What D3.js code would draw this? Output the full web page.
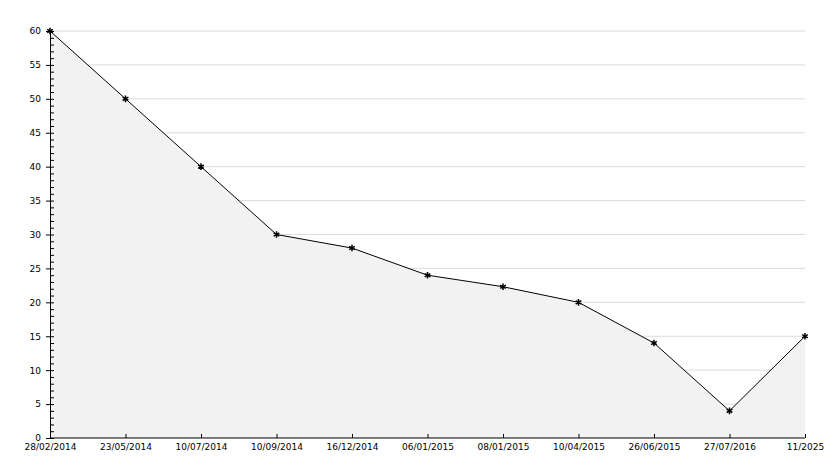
<!DOCTYPE html>
<html><head><meta charset="utf-8">
<script src="https://cdn.jsdelivr.net/npm/d3@7"></script>
<style>body{margin:0;background:#fff}text{font-family:"DejaVu Sans",sans-serif;font-size:9px;fill:#000}</style>
</head><body><div id="chart"></div>
<script>
const dates = ['28/02/2014','23/05/2014','10/07/2014','10/09/2014','16/12/2014','06/01/2015','08/01/2015','10/04/2015','26/06/2015','27/07/2016','11/2025']
const values = [60, 50, 40, 30, 28, 24, 22.3, 20, 14, 4, 15]
const yTicks = [0,5,10,15,20,25,30,35,40,45,50,55,60]

const w = 834, h = 468
const svg = d3.select('#chart').append('svg').attr('width', w).attr('height', h)

const x = d3.scalePoint().domain(dates).range([50, 805])
const y = d3.scaleLinear().domain([0, 60]).range([438, 31])

// grid
svg.selectAll('.grid').data(yTicks.slice(1)).enter().append('line')
   .attr('x1', 50).attr('x2', 805)
   .attr('y1', d => y(d)).attr('y2', d => y(d))
   .attr('stroke', '#dcdcdc')

const area = d3.area().x((d, i) => x(dates[i])).y0(y(0)).y1(d => y(d))
svg.append('path').datum(values).attr('d', area).attr('fill', '#f2f2f2')

const line = d3.line().x((d, i) => x(dates[i])).y(d => y(d))
svg.append('path').datum(values).attr('d', line).attr('fill', 'none').attr('stroke', '#000').attr('stroke-width', 1)

// minor ticks
svg.append('g').attr('transform', 'translate(50,0)')
   .call(d3.axisRight(y).ticks(60).tickSize(4).tickFormat(''))
   .call(g => g.select('.domain').remove())

const yA = svg.append('g').attr('transform', 'translate(50,0)')
   .call(d3.axisLeft(y).tickValues(yTicks).tickSize(4).tickPadding(5))
yA.selectAll('text').style('font-size', '9px')

const xA = svg.append('g').attr('transform', 'translate(0,438)')
   .call(d3.axisBottom(x).tickSize(-4).tickPadding(6))
xA.select('.domain').attr('d', 'M50,0H805')
xA.selectAll('text').style('font-size', '9px')

svg.selectAll('.pt').data(values).enter().append('path')
   .attr('d', d3.symbol(d3.symbolAsterisk || d3.symbolCross, 30))
   .attr('transform', (d, i) => 'translate(' + x(dates[i]) + ',' + y(d) + ')')
   .attr('fill', '#000').attr('stroke', '#000').attr('stroke-width', 1.5)
</script></body></html>
